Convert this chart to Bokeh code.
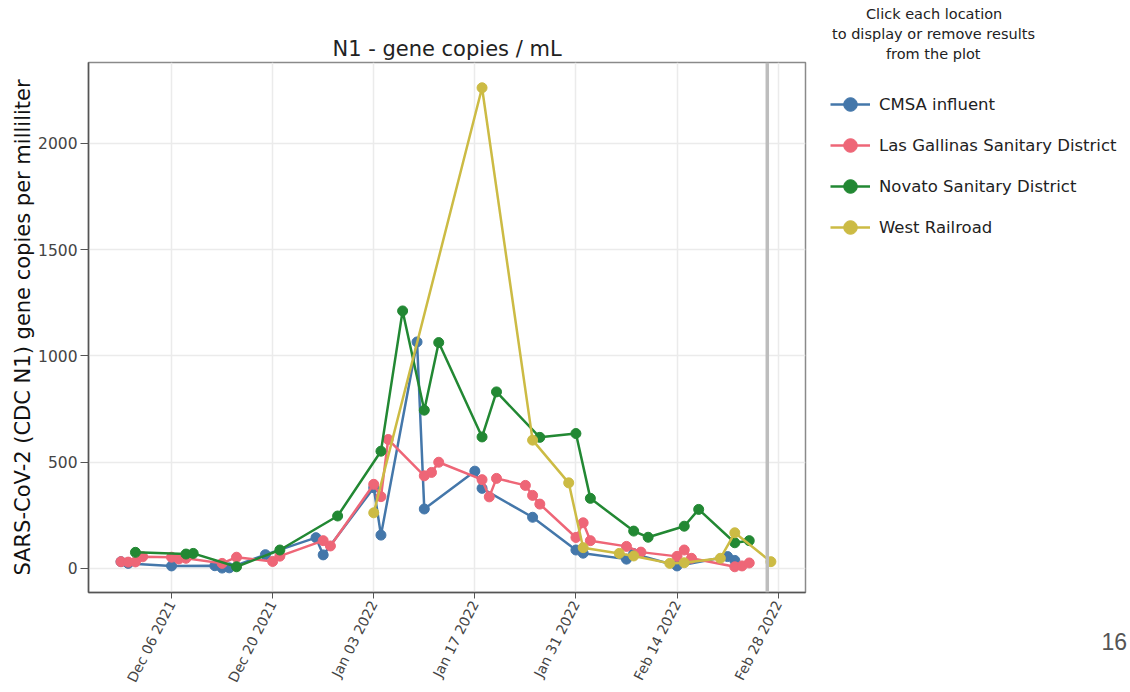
import datetime as dt
from bokeh.plotting import figure
from bokeh.layouts import row
from bokeh.models import (Range1d, FixedTicker, Span, Legend, LegendItem, Title,
                          ColumnDataSource, DatetimeTickFormatter)
from bokeh.embed import file_html
from bokeh.resources import INLINE

# ---------------- data ----------------
series_names = ["CMSA influent", "Las Gallinas Sanitary District",
                "Novato Sanitary District", "West Railroad"]
series_colors = ["#4477AA", "#EE6677", "#228833", "#CCBB44"]

cmsa_dates = ["2021-11-29", "2021-11-30", "2021-12-06", "2021-12-12", "2021-12-13",
              "2021-12-14", "2021-12-19", "2021-12-26", "2021-12-27", "2022-01-03",
              "2022-01-04", "2022-01-09", "2022-01-10", "2022-01-17", "2022-01-18",
              "2022-01-25", "2022-01-31", "2022-02-01", "2022-02-07", "2022-02-08",
              "2022-02-14", "2022-02-21", "2022-02-22"]
cmsa_values = [32, 24, 12, 13, 2, 3, 65, 145, 64, 380, 157, 1066, 280, 458, 377,
               241, 87, 72, 44, 70, 12, 56, 38]

lg_dates = ["2021-11-29", "2021-11-30", "2021-12-01", "2021-12-02", "2021-12-06",
            "2021-12-07", "2021-12-08", "2021-12-13", "2021-12-15", "2021-12-20",
            "2021-12-21", "2021-12-27", "2021-12-28", "2022-01-03", "2022-01-04",
            "2022-01-05", "2022-01-10", "2022-01-11", "2022-01-12", "2022-01-18",
            "2022-01-19", "2022-01-20", "2022-01-24", "2022-01-25", "2022-01-26",
            "2022-01-31", "2022-02-01", "2022-02-02", "2022-02-07", "2022-02-09",
            "2022-02-14", "2022-02-15", "2022-02-16", "2022-02-22", "2022-02-23",
            "2022-02-24"]
lg_values = [32, 30, 31, 55, 53, 45, 48, 24, 53, 33, 58, 131, 106, 396, 338, 607,
             436, 452, 500, 418, 337, 424, 391, 344, 303, 146, 215, 131, 104, 77,
             57, 87, 48, 8, 12, 26]

novato_dates = ["2021-12-01", "2021-12-08", "2021-12-09", "2021-12-15", "2021-12-21",
                "2021-12-29", "2022-01-04", "2022-01-07", "2022-01-10", "2022-01-12",
                "2022-01-18", "2022-01-20", "2022-01-26", "2022-01-31", "2022-02-02",
                "2022-02-08", "2022-02-10", "2022-02-15", "2022-02-17", "2022-02-22",
                "2022-02-24"]
novato_values = [76, 68, 71, 8, 87, 247, 552, 1212, 745, 1063, 619, 831, 617, 635,
                 330, 176, 147, 199, 278, 121, 131]

west_dates = ["2022-01-03", "2022-01-18", "2022-01-25", "2022-01-30", "2022-02-01",
              "2022-02-06", "2022-02-08", "2022-02-13", "2022-02-15", "2022-02-20",
              "2022-02-22", "2022-02-27"]
west_values = [262, 2262, 604, 403, 98, 71, 59, 24, 27, 48, 168, 32]

x_tick_dates = ["2021-12-06", "2021-12-20", "2022-01-03", "2022-01-17",
                "2022-01-31", "2022-02-14", "2022-02-28"]
y_ticks = [0, 500, 1000, 1500, 2000]
marker_date = "2022-02-26T12:00"

title_text = "N1 - gene copies / mL"
y_label = "SARS-CoV-2 (CDC N1) gene copies per milliliter"
legend_title_lines = ["Click each location", "to display or remove results",
                      "from the plot"]
slide_number = "16"

# ---------------- helpers ----------------
def to_dt(s):
    return dt.datetime.fromisoformat(s)

def to_ms(s):
    d = to_dt(s).replace(tzinfo=dt.timezone.utc)
    return d.timestamp() * 1000.0

FONT = "DejaVu Sans"

# ---------------- main chart ----------------
p = figure(frame_width=717, frame_height=530, x_axis_type="datetime",
           output_backend="svg", toolbar_location=None,
           x_range=Range1d(to_dt("2021-11-24T12:00"), to_dt("2022-03-03T19:00")),
           y_range=Range1d(-113, 2381),
           min_border_left=88, min_border_right=8,
           min_border_top=62, min_border_bottom=100,
           title=title_text)

p.background_fill_color = "white"
p.border_fill_color = "white"
p.outline_line_color = "#8a8a8a"
p.outline_line_width = 1.5

p.title.align = "center"
p.title.text_font = FONT
p.title.text_font_size = "21px"
p.title.text_font_style = "normal"
p.title.text_color = "#222222"
p.title.standoff = 4

xt = FixedTicker(ticks=[to_ms(d) for d in x_tick_dates])
p.xaxis.ticker = xt
p.xaxis.formatter = DatetimeTickFormatter(
    milliseconds="%b %d %Y", seconds="%b %d %Y", minsec="%b %d %Y",
    minutes="%b %d %Y", hourmin="%b %d %Y", hours="%b %d %Y",
    days="%b %d %Y", months="%b %d %Y", years="%b %d %Y")
p.xaxis.major_label_orientation = 1.1
p.xaxis.major_label_text_font = FONT
p.xaxis.major_label_text_font_size = "14px"
p.xaxis.major_label_text_color = "#444444"
p.xaxis.major_tick_out = 6
p.xaxis.major_tick_in = 0
p.xaxis.minor_tick_line_color = None
p.xaxis.axis_line_color = "#555555"
p.xaxis.axis_line_width = 1.5
p.xaxis.major_tick_line_color = "#555555"
p.xaxis.major_label_standoff = 3

p.yaxis.ticker = FixedTicker(ticks=y_ticks)
p.yaxis.axis_label = y_label
p.yaxis.axis_label_text_font = FONT
p.yaxis.axis_label_text_font_size = "21px"
p.yaxis.axis_label_text_font_style = "normal"
p.yaxis.axis_label_text_color = "#111111"
p.yaxis.axis_label_standoff = 0
p.yaxis.major_label_text_font = FONT
p.yaxis.major_label_text_font_size = "15.5px"
p.yaxis.major_label_text_color = "#444444"
p.yaxis.major_tick_out = 8
p.yaxis.major_tick_in = 0
p.yaxis.major_label_standoff = 3
p.yaxis.minor_tick_line_color = None
p.yaxis.axis_line_color = "#555555"
p.yaxis.axis_line_width = 1.5
p.yaxis.major_tick_line_color = "#555555"

p.xgrid.ticker = xt
p.xgrid.grid_line_color = "#ebebeb"
p.xgrid.grid_line_width = 1.5
p.ygrid.grid_line_color = "#ebebeb"
p.ygrid.grid_line_width = 1.5

p.add_layout(Span(location=to_ms(marker_date), dimension="height",
                  line_color="#bdbdbd", line_width=3.5))

all_dates = [cmsa_dates, lg_dates, novato_dates, west_dates]
all_values = [cmsa_values, lg_values, novato_values, west_values]
for name, color, ds, vs in zip(series_names, series_colors, all_dates, all_values):
    src = ColumnDataSource(dict(x=[to_dt(d) for d in ds], y=vs))
    p.line("x", "y", source=src, line_color=color, line_width=2.5)
    p.scatter("x", "y", source=src, size=10, fill_color=color,
              line_color=color, line_width=1)

# ---------------- legend panel ----------------
q = figure(width=317, height=692, output_backend="svg", toolbar_location=None,
           x_range=Range1d(0, 1), y_range=Range1d(0, 1),
           x_axis_location=None, y_axis_location=None,
           min_border_left=0, min_border_right=0,
           min_border_top=62, min_border_bottom=100)
q.outline_line_color = None
q.grid.visible = False
q.title.text = ""
q.title.visible = False

nan = float("nan")
items = []
for name, color in zip(series_names, series_colors):
    proxy = ColumnDataSource(dict(x=[nan], y=[nan]))   # legend-only proxies
    lr = q.line("x", "y", source=proxy, line_color=color, line_width=2.5)
    sr = q.scatter("x", "y", source=proxy, size=10, fill_color=color,
                   line_color=color)
    items.append(LegendItem(label=name, renderers=[lr, sr]))

legend = Legend(items=items, location=(12, 343), glyph_width=40, glyph_height=34,
                label_height=34, spacing=7, margin=0, padding=5, label_standoff=9,
                label_text_font=FONT, label_text_font_size="16.5px",
                label_text_color="#222222", border_line_alpha=0,
                background_fill_alpha=0)
q.add_layout(legend)

# legend heading: added nearest-to-frame first, each line centred near x=933
heading_offsets = [52.5, 18.5, 72.5]
for line, off in reversed(list(zip(legend_title_lines, heading_offsets))):
    q.add_layout(Title(text=line, align="left", offset=off, standoff=2,
                       text_font=FONT, text_font_size="14.5px",
                       text_font_style="normal", text_color="#222222"), "above")

# slide number: spacer then number below the frame
q.add_layout(Title(text=" ", align="left", standoff=0, text_font=FONT,
                   text_font_size="31px"), "below")
q.add_layout(Title(text=slide_number, align="left", offset=288, standoff=0,
                   text_font="Liberation Sans", text_font_size="23px",
                   text_font_style="normal", text_color="#555555"), "below")

layout = row(p, q)
open("out.html", "w").write(file_html(layout, INLINE))
